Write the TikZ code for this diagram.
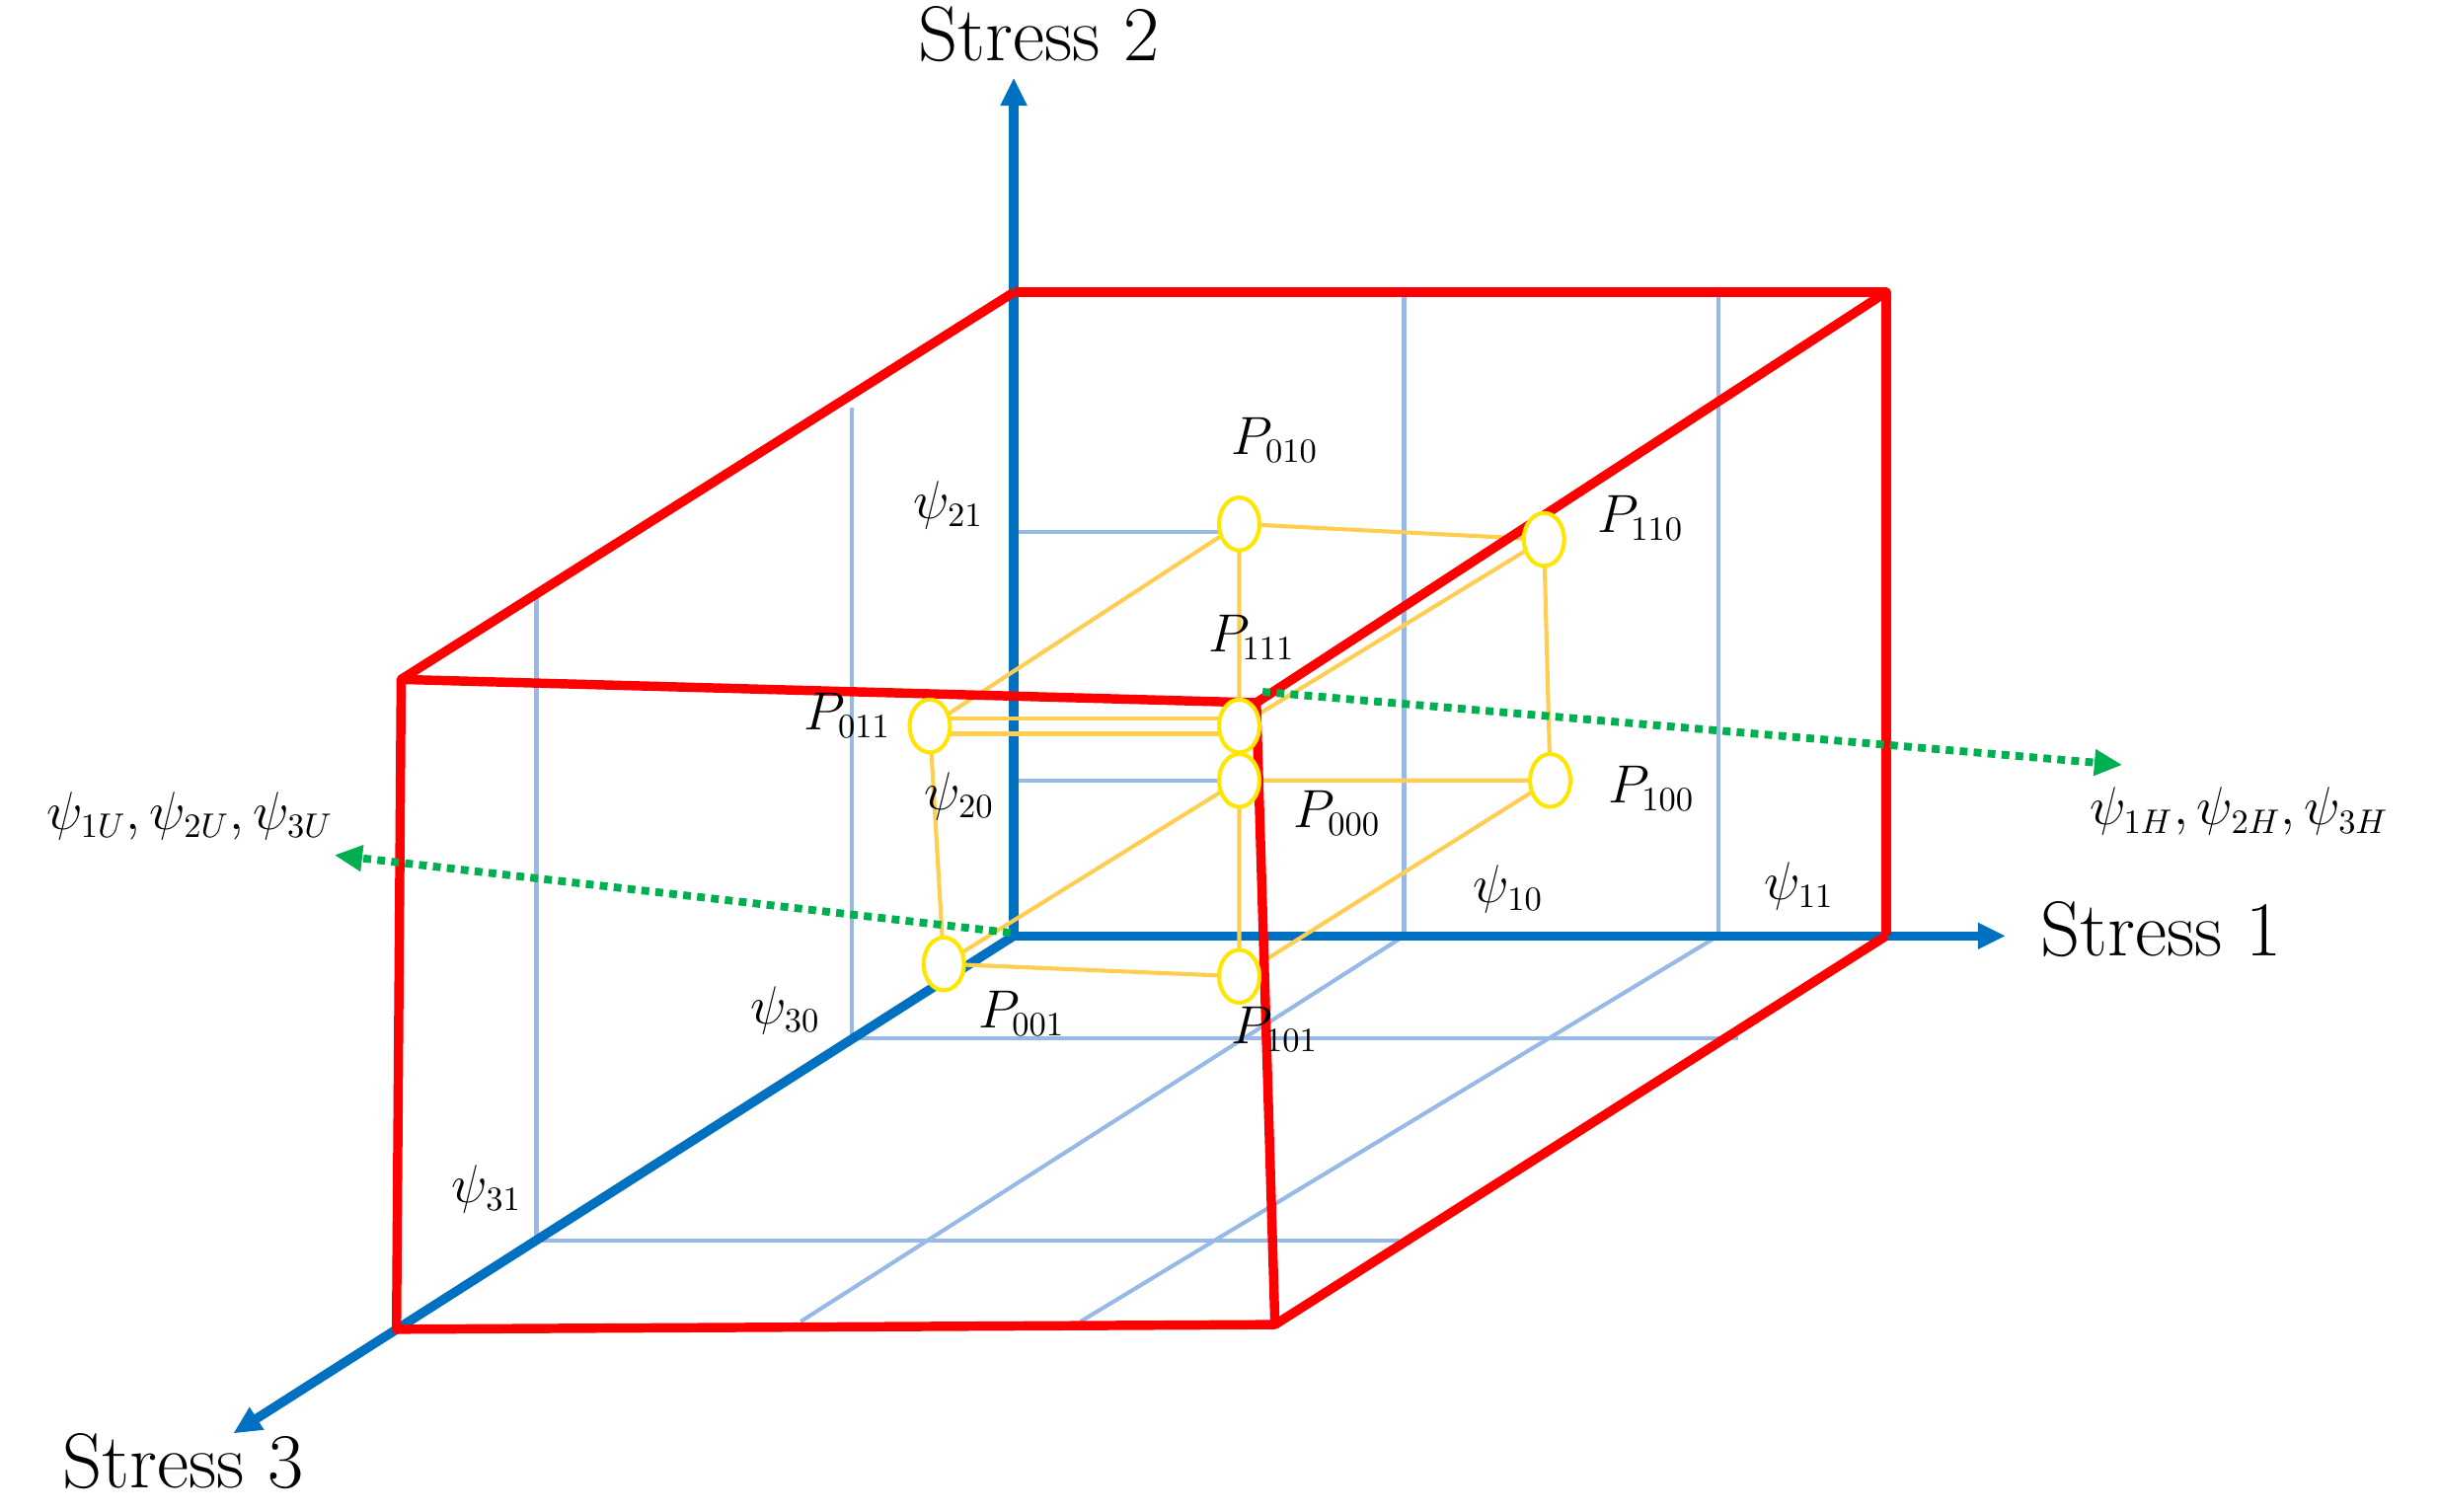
\documentclass[tikz,border=0pt]{standalone}
\usetikzlibrary{arrows.meta,shapes.geometric}
\definecolor{axb}{RGB}{0,112,192}
\definecolor{grd}{RGB}{150,185,232}
\definecolor{ylw}{RGB}{255,205,80}
\definecolor{ylo}{RGB}{255,230,0}
\definecolor{grn}{RGB}{0,176,80}
\begin{document}
\begin{tikzpicture}[x=0.5pt,y=-0.5pt,
 axis/.style={draw=axb,line width=3pt,-{Triangle[length=9pt,width=8pt]}},
 grid/.style={draw=grd,line width=1.3pt},
 redl/.style={draw=red,line width=3pt,line join=round},
 yl/.style={draw=ylw,line width=1.3pt},
 pt/.style={ellipse,draw=ylo,fill=white,line width=1.3pt,minimum width=13pt,minimum height=17pt,inner sep=0pt},
 gd/.style={draw=grn,line width=2.5pt,dotted,-{Triangle[length=9pt,width=8pt]}},
 lab/.style={font=\fontsize{16}{18}\selectfont},
 big/.style={font=\fontsize{25}{27}\selectfont}]
\useasboundingbox (0,0) rectangle (1568,972);
\coordinate (O) at (652,602);
% grid
\draw[grid] (903,188) -- (903,602) (1105,188) -- (1105,602);
\draw[grid] (652,342) -- (797,342) (652,502) -- (797,502);
\draw[grid] (345,383) -- (345,798) (548,262) -- (548,668);
\draw[grid] (548,668) -- (1118,668) (345,798) -- (900,798);
\draw[grid] (903,602) -- (515,850) (1105,602) -- (695,850);
% axes
\coordinate (A2) at (652,50); \coordinate (A1) at (1290,602); \coordinate (A3) at (150,922);
\draw[axis] (O) -- (A2); \draw[axis] (O) -- (A1); \draw[axis] (O) -- (A3);
\node[big] at (668,22) {Stress 2};
\node[big] at (1390,598) {Stress 1};
\node[big] at (118,940) {Stress 3};
% yellow cube
\coordinate (c010) at (797,337); \coordinate (c110) at (993,347);
\coordinate (c000) at (797,502); \coordinate (c100) at (997,502);
\coordinate (c011) at (598,467); \coordinate (c111) at (797,467);
\coordinate (c001) at (607,620); \coordinate (c101) at (797,628);
\draw[yl] (c010) -- (c110) (c010) -- (c101) (c110) -- (c100) (c000) -- (c100)
 (c010) -- (c011) (c110) -- (c111) (c011) -- (c001) (c001) -- (c101)
 (c000) -- (c001) (c100) -- (c101);
\draw[yl] (598,462) -- (797,462) (598,472) -- (797,472);
% red box
\coordinate (b1) at (652,188); \coordinate (b2) at (1213,188); \coordinate (b3) at (1213,602);
\coordinate (f1) at (258,437); \coordinate (f2) at (808,452); \coordinate (f3) at (820,852); \coordinate (f4) at (255,855);
\draw[redl] (b1) -- (b2) -- (b3);
\draw[redl] (f1) -- (f2) -- (f3) -- (f4) -- cycle;
\draw[redl] (f1) -- (b1) (f2) -- (b2) (f3) -- (b3);
% points
\foreach \p in {c010,c110,c000,c100,c011,c111,c001,c101} \node[pt] (n\p) at (\p) {};
% green
\draw[gd] (812,445) -- (1365,492);
\draw[gd] (650,600) -- (215,550);
\node[lab] at (1440,522) {$\psi_{1H},\psi_{2H},\psi_{3H}$};
\node[lab] at (122,525) {$\psi_{1U},\psi_{2U},\psi_{3U}$};
% labels
\node[lab] at (820,283) {$P_{010}$};
\node[lab] at (1055,333) {$P_{110}$};
\node[lab] at (805,410) {$P_{111}$};
\node[lab] at (545,460) {$P_{011}$};
\node[lab] at (860,523) {$P_{000}$};
\node[lab] at (1062,507) {$P_{100}$};
\node[lab] at (657,652) {$P_{001}$};
\node[lab] at (820,662) {$P_{101}$};
\node[lab] at (610,325) {$\psi_{21}$};
\node[lab] at (617,512) {$\psi_{20}$};
\node[lab] at (970,572) {$\psi_{10}$};
\node[lab] at (1157,570) {$\psi_{11}$};
\node[lab] at (505,650) {$\psi_{30}$};
\node[lab] at (313,765) {$\psi_{31}$};
\end{tikzpicture}
\end{document}
